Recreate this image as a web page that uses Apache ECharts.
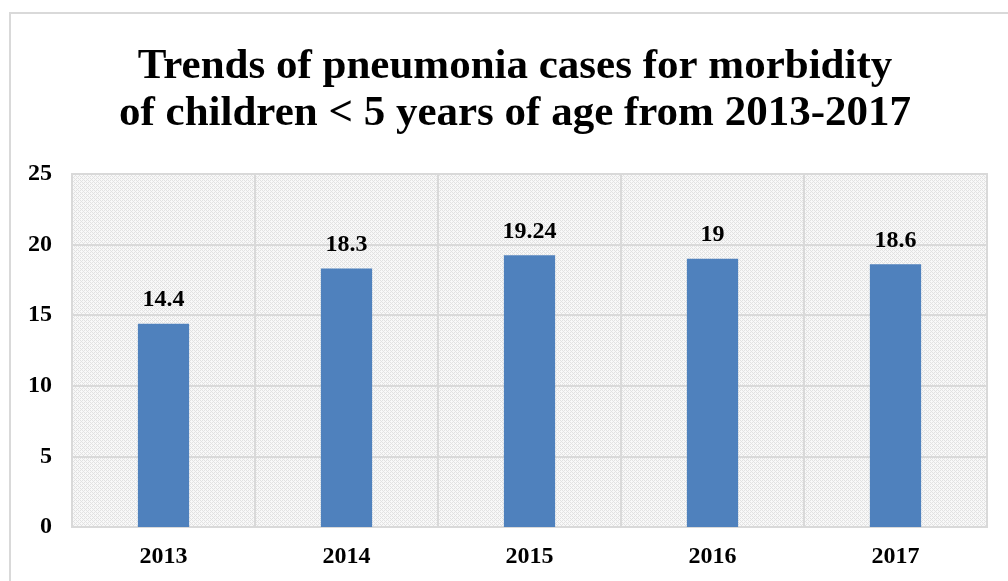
<!DOCTYPE html>
<html><head><meta charset="utf-8">
<script src="https://cdn.jsdelivr.net/npm/echarts@6/dist/echarts.min.js"></script>
<style>html,body{margin:0;padding:0;background:#fff}#c{width:1008px;height:581px}
#frame{position:absolute;left:9px;top:12px;width:1010px;height:580px;border-left:2px solid #d9d9d9;border-top:2px solid #d9d9d9;box-sizing:border-box;pointer-events:none}</style>
</head><body><div id="c"></div><div id="frame"></div>
<script>
var categories = ['2013', '2014', '2015', '2016', '2017'];
var values = [14.4, 18.3, 19.24, 19, 18.6];
var yTicks = [0, 5, 10, 15, 20, 25];

var pc = document.createElement('canvas');
pc.width = 4; pc.height = 4;
var g = pc.getContext('2d');
g.fillStyle = '#f8f8f8'; g.fillRect(0, 0, 4, 4);
g.fillStyle = '#e2e2e2';
[[0,0],[1,1],[2,2],[3,3],[2,0],[0,2]].forEach(function(p){ g.fillRect(p[0], p[1], 1, 1); });

var chart = echarts.init(document.getElementById('c'));
var font = '"Liberation Serif", "Times New Roman", serif';
chart.setOption({
  animation: false,
  title: {
    text: 'Trends of pneumonia cases for morbidity\nof children < 5 years of age from 2013-2017',
    left: 510, top: 38, textAlign: 'center',
    textStyle: { fontFamily: font, fontWeight: 'bold', fontSize: 43, lineHeight: 47, color: '#000' }
  },
  grid: { left: 72, right: 21, top: 174, bottom: 54, show: true,
    backgroundColor: { image: pc, repeat: 'repeat' }, borderColor: '#d9d9d9', borderWidth: 2 },
  xAxis: {
    type: 'category', data: categories,
    axisLine: { show: true, lineStyle: { color: '#d9d9d9', width: 2 } },
    axisTick: { show: false },
    splitLine: { show: true, lineStyle: { color: '#d9d9d9', width: 2 } },
    axisLabel: { fontFamily: font, fontWeight: 'bold', fontSize: 24, color: '#000', margin: 18 }
  },
  yAxis: {
    type: 'value', min: yTicks[0], max: yTicks[yTicks.length - 1], interval: 5,
    axisLine: { show: false }, axisTick: { show: false },
    splitLine: { lineStyle: { color: '#d9d9d9', width: 2 } },
    axisLabel: { fontFamily: font, fontWeight: 'bold', fontSize: 24, color: '#000', margin: 20, padding: [8, 0, 0, 0] }
  },
  series: [{
    type: 'bar', data: values, barWidth: '28%',
    itemStyle: { color: '#4f81bd' },
    label: { show: true, position: 'top', distance: 12, fontFamily: font, fontWeight: 'bold', fontSize: 24, color: '#000' }
  }]
});
</script></body></html>
